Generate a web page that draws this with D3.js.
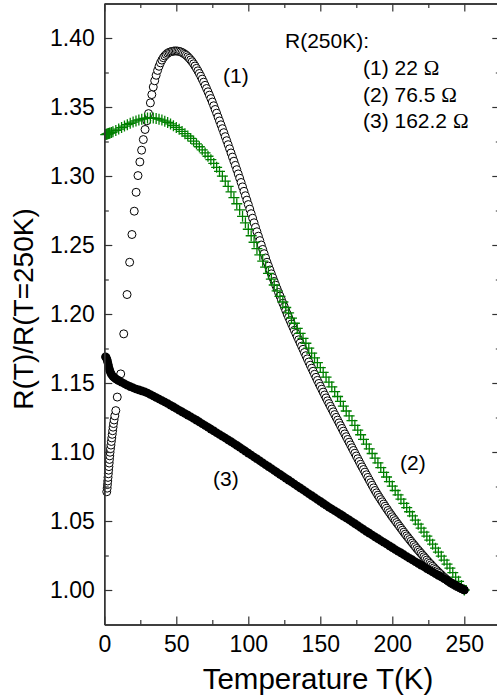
<!DOCTYPE html>
<html>
<head>
<meta charset="utf-8">
<script src="https://cdn.jsdelivr.net/npm/d3@7"></script>
<style>
  body { margin: 0; background: #fff; }
  svg { display: block; }
  text { font-family: "Liberation Sans", Arial, Helvetica, sans-serif; fill: #000; }
</style>
</head>
<body>
<svg id="chart" width="497" height="698"></svg>
<script>
// Sample (1): open circles, R(250K) = 22 Ohm
const temps1 = [1.7,2.0,2.2,2.4,2.6,2.8,3.0,3.2,3.4,3.6,3.8,4.0,4.3,4.6,4.9,5.2,5.5,5.8,6.1,6.4,6.8,7.3,8.0,9.0,11.4,13.5,15.8,17.6,19.2,20.8,22.1,23.4,24.7,25.9,27.1,28.3,29.5,30.7,
  32,33,34,35,36,37,38,39,40,41,42,43,44,45,46,47,48,49,50,51,52,53,54,55,56,57,58,59,60,61,62,63,64,65,66,67,68,69,70,71,72,73,74,75,76,77,78,79,80,
  81,82,83,84,85,86,87,88,89,90,91,92,93,94,95,96,97,98,99,100,101,102,103,104,105,106,107,108,109,110,111,112,113,114,115,116,117,118,119,120,
  121,122,123,124,125,126,127,128,129,130,131,132,133,134,135,136,137,138,139,140,141,142,143,144,145,146,147,148,149,150,151,152,153,154,155,156,157,158,159,160,
  161,162,163,164,165,166,167,168,169,170,171,172,173,174,175,176,177,178,179,180,181,182,183,184,185,186,187,188,189,190,191,192,193,194,195,196,197,198,199,200,
  201,202,203,204,205,206,207,208,209,210,211,212,213,214,215,216,217,218,219,220,221,222,223,224,225,226,227,228,229,230,231,232,233,234,235,236,237,238,239,240,
  241,242,243,244,245,246,247,248,249,250];
const ratio1 = [1.0712,1.0738,1.0764,1.0790,1.0816,1.0842,1.0868,1.0894,1.0920,1.0946,1.0972,1.0998,1.1024,1.1050,1.1076,1.1102,1.1128,1.1154,1.1180,1.1206,1.1232,1.1262,1.1300,1.1398,1.1566,1.1856,1.2141,1.2375,1.2576,1.2745,1.2882,1.3003,1.3102,1.3187,1.3264,1.3337,1.3400,1.3452,
  1.3530,1.3590,1.3645,1.3690,1.3730,1.3765,1.3795,1.3820,1.3840,1.3857,1.3870,1.3881,1.3890,1.3896,1.3900,1.3903,1.3905,1.3906,1.3906,1.3905,1.3903,1.3900,1.3895,1.3889,1.3882,1.3874,1.3864,1.3853,1.3841,1.3828,1.3813,1.3797,1.3780,1.3762,1.3743,1.3723,1.3702,1.3680,1.3657,1.3634,1.3610,1.3586,1.3561,1.3536,1.3509,1.3482,1.3455,1.3427,1.3399,
  1.3371,1.3343,1.3314,1.3285,1.3256,1.3227,1.3197,1.3167,1.3137,1.3107,1.3077,1.3046,1.3015,1.2984,1.2953,1.2921,1.2889,1.2857,1.2825,1.2793,1.2760,1.2727,1.2694,1.2661,1.2628,1.2596,1.2564,1.2532,1.2500,1.2468,1.2437,1.2406,1.2375,1.2347,1.2319,1.2291,1.2263,1.2236,1.2209,1.2182,
  1.2156,1.2130,1.2104,1.2078,1.2052,1.2026,1.2000,1.1976,1.1952,1.1928,1.1905,1.1882,1.1859,1.1836,1.1813,1.1790,1.1767,1.1744,1.1721,1.1698,1.1675,1.1652,1.1629,1.1607,1.1585,1.1563,1.1541,1.1519,1.1497,1.1476,1.1455,1.1434,1.1413,1.1392,1.1371,1.1351,1.1331,1.1311,1.1291,1.1271,
  1.1251,1.1231,1.1211,1.1191,1.1171,1.1151,1.1131,1.1111,1.1091,1.1071,1.1051,1.1031,1.1011,1.0991,1.0971,1.0951,1.0931,1.0911,1.0892,1.0873,1.0854,1.0835,1.0816,1.0797,1.0778,1.0759,1.0740,1.0721,1.0704,1.0687,1.0671,1.0655,1.0639,1.0623,1.0607,1.0591,1.0576,1.0561,1.0546,1.0531,
  1.0517,1.0503,1.0489,1.0475,1.0461,1.0447,1.0433,1.0419,1.0405,1.0392,1.0379,1.0366,1.0353,1.0340,1.0327,1.0314,1.0301,1.0289,1.0277,1.0265,1.0253,1.0241,1.0229,1.0217,1.0205,1.0194,1.0183,1.0172,1.0161,1.0150,1.0140,1.0130,1.0120,1.0110,1.0100,1.0091,1.0082,1.0073,1.0064,1.0055,
  1.0049,1.0043,1.0037,1.0031,1.0025,1.0020,1.0015,1.0010,1.0005,1.0000];

// Sample (2): green crosses, R(250K) = 76.5 Ohm
const temps2 = [1.0,1.5,2.0,2.5,3.0,3.5,4.0,5.0,6.0,8,10,12,14,16,18,20,22,24,26,28,30,32,34,36,38,40,42,44,46,48,50,52,54,56,58,60,62,64,66,68,70,72,74,76,78,80,
  82,84,86,88,90,92,94,96,98,100,102,104,106,108,110,112,114,116,118,120,122,124,126,128,130,132,134,136,138,140,142,144,146,148,150,152,154,156,158,160,
  162,164,166,168,170,172,174,176,178,180,182,184,186,188,190,192,194,196,198,200,202,204,206,208,210,212,214,216,218,220,222,224,226,228,230,232,234,236,238,240,
  242,244,246,248,250];
const ratio2 = [1.3300,1.3302,1.3304,1.3306,1.3308,1.3310,1.3312,1.3316,1.3320,1.3330,1.3340,1.3351,1.3362,1.3372,1.3382,1.3391,1.3399,1.3406,1.3412,1.3417,1.3420,1.3421,1.3420,1.3417,1.3412,1.3405,1.3397,1.3388,1.3377,1.3365,1.3352,1.3338,1.3323,1.3307,1.3290,1.3272,1.3253,1.3233,1.3212,1.3190,1.3167,1.3143,1.3118,1.3091,1.3063,1.3033,
  1.2999,1.2963,1.2925,1.2885,1.2843,1.2799,1.2754,1.2708,1.2661,1.2614,1.2567,1.2520,1.2474,1.2428,1.2383,1.2339,1.2295,1.2252,1.2210,1.2168,1.2127,1.2087,1.2047,1.2008,1.1970,1.1933,1.1896,1.1860,1.1824,1.1788,1.1752,1.1717,1.1682,1.1647,1.1612,1.1577,1.1542,1.1507,1.1472,1.1437,
  1.1402,1.1367,1.1332,1.1297,1.1262,1.1227,1.1193,1.1159,1.1125,1.1091,1.1057,1.1023,1.0989,1.0955,1.0921,1.0887,1.0853,1.0819,1.0786,1.0753,1.0721,1.0689,1.0658,1.0627,1.0597,1.0567,1.0537,1.0507,1.0477,1.0448,1.0419,1.0390,1.0361,1.0332,1.0303,1.0274,1.0245,1.0216,1.0187,1.0158,
  1.0126,1.0093,1.0063,1.0032,1.0000];

// Sample (3): filled black circles, R(250K) = 162.2 Ohm
const temps3 = [0.8,1.2,1.6,2.0,2.4,2.8,3.2,3.6,4.0,4.5,5,6,7,8,9,10,12,14,16,18,20,22,24,26,28,30,32,34,36,38,40,42,44,46,48,50,52,54,56,58,60,62,64,66,68,70,72,74,76,78,80,
  82,84,86,88,90,92,94,96,98,100,102,104,106,108,110,112,114,116,118,120,122,124,126,128,130,132,134,136,138,140,142,144,146,148,150,152,154,156,158,160,
  162,164,166,168,170,172,174,176,178,180,182,184,186,188,190,192,194,196,198,200,202,204,206,208,210,212,214,216,218,220,222,224,226,228,230,232,234,236,238,240,
  242,244,246,248,250];
const ratio3 = [1.1690,1.1686,1.1678,1.1666,1.1650,1.1632,1.1614,1.1598,1.1585,1.1572,1.1562,1.1548,1.1538,1.1530,1.1523,1.1517,1.1505,1.1494,1.1484,1.1474,1.1465,1.1457,1.1450,1.1443,1.1436,1.1428,1.1417,1.1406,1.1395,1.1384,1.1373,1.1362,1.1351,1.1339,1.1327,1.1315,1.1303,1.1291,1.1279,1.1267,1.1255,1.1243,1.1231,1.1218,1.1205,1.1192,1.1179,1.1166,1.1153,1.1140,1.1127,
  1.1114,1.1101,1.1088,1.1075,1.1062,1.1048,1.1034,1.1020,1.1006,1.0992,1.0978,1.0964,1.0950,1.0936,1.0922,1.0908,1.0894,1.0880,1.0866,1.0852,1.0838,1.0824,1.0810,1.0796,1.0782,1.0768,1.0754,1.0740,1.0726,1.0712,1.0698,1.0684,1.0670,1.0656,1.0642,1.0628,1.0614,1.0600,1.0587,1.0574,
  1.0561,1.0548,1.0535,1.0522,1.0509,1.0495,1.0481,1.0467,1.0453,1.0439,1.0425,1.0412,1.0398,1.0385,1.0372,1.0359,1.0346,1.0333,1.0320,1.0307,1.0294,1.0281,1.0269,1.0256,1.0243,1.0230,1.0218,1.0205,1.0193,1.0180,1.0168,1.0155,1.0143,1.0130,1.0118,1.0106,1.0094,1.0082,1.0070,1.0058,
  1.0046,1.0035,1.0023,1.0012,1.0000];

// Axis ticks and annotation text
const xMajorTicks = [0, 50, 100, 150, 200, 250];
const xMinorTicks = [25, 75, 125, 175, 225];
const yMajorTicks = [1.00, 1.05, 1.10, 1.15, 1.20, 1.25, 1.30, 1.35, 1.40];
const yMinorTicks = [1.025, 1.075, 1.125, 1.175, 1.225, 1.275, 1.325, 1.375];
const legendTitle = "R(250K):";
const legendRows = [["(1) 22 ", "Ω"], ["(2) 76.5 ", "Ω"], ["(3) 162.2 ", "Ω"]];

const svg = d3.select("#chart");
const frame = { left: 104.3, right: 500.3, top: 3.5, bottom: 624.5 };

const x = d3.scaleLinear().domain([0, 275]).range([frame.left, frame.right]);
const y = d3.scaleLinear().domain([0.975, 1.425]).range([frame.bottom, frame.top]);

const zip = (ts, rs) => ts.map((t, i) => ({ t, r: rs[i] }));
const s1 = zip(temps1, ratio1);
const s2 = zip(temps2, ratio2);
const s3 = zip(temps3, ratio3);

const plot = svg.append("g");

// (1) open circles
plot.append("g").selectAll("circle").data(s1).join("circle")
  .attr("cx", d => x(d.t)).attr("cy", d => y(d.r)).attr("r", 4)
  .attr("fill", "#fff").attr("stroke", "#000").attr("stroke-width", 1);

// (2) green plus markers
plot.append("g").selectAll("path").data(s2).join("path")
  .attr("transform", d => `translate(${x(d.t)},${y(d.r)})`)
  .attr("d", "M-5.5,0H5.5M0,-5.5V5.5")
  .attr("stroke", "#008000").attr("stroke-width", 1.3).attr("fill", "none");

// (3) filled circles
plot.append("g").selectAll("circle").data(s3).join("circle")
  .attr("cx", d => x(d.t)).attr("cy", d => y(d.r)).attr("r", 4.3)
  .attr("fill", "#000");

// Frame axes with inward ticks on all four sides
const axisColor = "#333";
function drawAxis(axis, translate) {
  const g = svg.append("g").attr("transform", translate).call(axis);
  g.select(".domain").attr("stroke", axisColor).attr("stroke-width", 1.4);
  g.selectAll(".tick line").attr("stroke", axisColor).attr("stroke-width", 1.2);
  return g;
}
const big = 8, small = 4.5;

// bottom
const xb = drawAxis(d3.axisBottom(x).tickValues(xMajorTicks).tickSize(-big).tickSizeOuter(0).tickPadding(11).tickFormat(d3.format("d")),
  `translate(0,${frame.bottom})`);
xb.selectAll("text").attr("font-size", 23).attr("font-family", "Liberation Sans, Arial, sans-serif").attr("fill", "#000");
drawAxis(d3.axisBottom(x).tickValues(xMinorTicks).tickSize(-small).tickSizeOuter(0).tickFormat(""), `translate(0,${frame.bottom})`);
// top
drawAxis(d3.axisTop(x).tickValues(xMajorTicks).tickSize(-big).tickSizeOuter(0).tickFormat(""), `translate(0,${frame.top})`);
drawAxis(d3.axisTop(x).tickValues(xMinorTicks).tickSize(-small).tickSizeOuter(0).tickFormat(""), `translate(0,${frame.top})`);
// left
const yl = drawAxis(d3.axisLeft(y).tickValues(yMajorTicks).tickSize(-big).tickSizeOuter(0).tickPadding(9.5).tickFormat(d3.format(".2f")),
  `translate(${frame.left},0)`);
yl.selectAll("text").attr("font-size", 23).attr("font-family", "Liberation Sans, Arial, sans-serif").attr("fill", "#000");
drawAxis(d3.axisLeft(y).tickValues(yMinorTicks).tickSize(-small).tickSizeOuter(0).tickFormat(""), `translate(${frame.left},0)`);
// right
drawAxis(d3.axisRight(y).tickValues(yMajorTicks).tickSize(-big).tickSizeOuter(0).tickFormat(""), `translate(${frame.right},0)`);
drawAxis(d3.axisRight(y).tickValues(yMinorTicks).tickSize(-small).tickSizeOuter(0).tickFormat(""), `translate(${frame.right},0)`);

// Axis titles
svg.append("text").attr("x", 318).attr("y", 689).attr("text-anchor", "middle")
  .attr("font-size", 29.5).text("Temperature T(K)");
svg.append("text").attr("transform", "translate(33,309) rotate(-90)").attr("text-anchor", "middle")
  .attr("font-size", 28).text("R(T)/R(T=250K)");

// Legend block
svg.append("text").attr("x", 285).attr("y", 48).attr("font-size", 21).text(legendTitle);
legendRows.forEach((row, i) => {
  const t = svg.append("text").attr("x", 363).attr("y", 75 + i * 26.5).attr("font-size", 21);
  t.append("tspan").text(row[0]);
  t.append("tspan").attr("font-family", "Liberation Serif, Times New Roman, serif").text(row[1]);
});

// Curve labels
svg.append("text").attr("x", 223).attr("y", 83).attr("font-size", 21).text("(1)");
svg.append("text").attr("x", 400).attr("y", 470).attr("font-size", 21).text("(2)");
svg.append("text").attr("x", 213).attr("y", 486).attr("font-size", 21).text("(3)");
</script>
</body>
</html>
